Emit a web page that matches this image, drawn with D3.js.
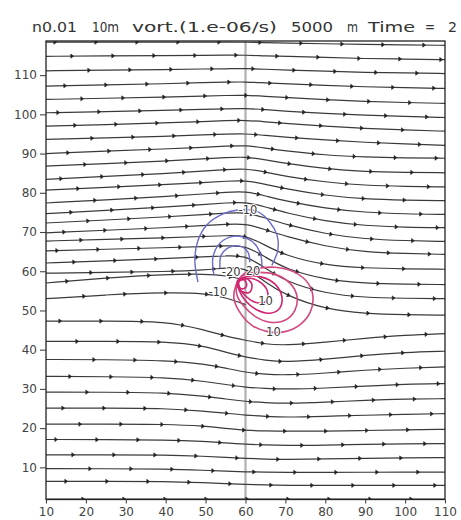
<!DOCTYPE html>
<html><head><meta charset="utf-8">
<script src="https://cdn.jsdelivr.net/npm/d3@7"></script>
<style>body{margin:0;background:#fff}svg{display:block}</style>
</head><body>
<svg id="c" width="461" height="520"></svg>
<script>
// ---------- data ----------
const titleWords = ["n0.01","10m","vort.(1.e-06/s)","5000","m","Time","=","2"];
const xTicks = [10,20,30,40,50,60,70,80,90,100,110];
const yTicks = [10,20,30,40,50,60,70,80,90,100,110];
const xDomain = [10,110];
const yDomain = [1.8,118.7];
const refLineX = 60;
// streamline y-values sampled at these x
const sampleX = [10,25,40,50,55,60,65,70,80,90,100,110];
const streamlines = [
 [118.4,118.4,118.4,118.4,118.4,118.4,118.3,118.2,118.0,117.8,117.7,117.6],
 [114.8,114.9,115.0,115.0,115.1,115.1,114.9,114.8,114.5,114.2,114.1,113.95],
 [111.1,111.3,111.4,111.6,111.6,111.7,111.5,111.3,111.0,110.7,110.55,110.4],
 [107.2,107.5,107.8,108.1,108.2,108.3,108.0,107.8,107.4,107.0,106.8,106.6],
 [103.8,104.1,104.4,104.7,104.8,104.9,104.6,104.3,103.7,103.3,103.0,102.8],
 [100.4,100.7,101.0,101.3,101.4,101.5,101.2,100.8,100.2,99.8,99.5,99.2],
 [97.0,97.4,97.8,98.2,98.4,98.5,98.1,97.7,97.0,96.4,96.0,95.7],
 [93.6,94.0,94.4,94.8,94.95,95.1,94.6,94.2,93.45,92.85,92.45,92.1],
 [90.0,90.6,91.2,91.6,91.9,92.1,91.4,90.7,89.6,89.1,88.9,88.8],
 [86.8,87.45,88.1,88.7,88.95,89.2,88.4,87.5,86.1,85.4,85.2,85.1],
 [83.4,84.2,84.9,85.6,85.9,86.2,85.3,84.2,82.7,81.9,81.6,81.5],
 [80.7,81.4,82.1,82.65,82.95,83.2,82.2,81.0,79.3,78.4,78.1,78.0],
 [77.4,78.2,79.05,79.75,80.1,80.4,79.2,77.9,76.0,75.0,74.6,74.5],
 [74.7,75.5,76.35,77.05,77.4,77.7,76.4,74.9,72.75,71.6,71.2,71.1],
 [72.3,73.05,73.85,74.5,74.8,75.1,73.6,71.95,69.5,68.2,67.8,67.6],
 [69.8,70.45,71.1,71.7,71.95,72.2,70.6,68.9,66.3,64.9,64.5,64.3],
 [67.7,68.1,68.5,68.9,69.05,69.2,66.6,64.0,61.5,60.8,60.6,60.5],
 [65.2,65.6,66.0,66.3,66.45,66.6,63.6,60.6,57.8,56.9,56.7,56.6],
 [62.1,62.65,63.2,63.7,63.9,64.1,60.8,57.4,54.3,53.3,53.1,53.0],
 [59.5,59.7,59.9,60.3,60.9,61.0,57.2,53.9,50.3,49.2,48.9,48.8],
 [57.0,58.3,59.2,59.3,58.9,57.8,null,null,null,null,null,null],
 [53.0,54.0,54.6,54.4,53.3,51.5,null,null,null,null,null,null],
 [47.3,47.3,47.3,45.0,43.4,42.4,41.4,41.1,41.9,42.9,43.7,44.1],
 [42.1,42.1,42.1,40.9,39.3,38.1,37.3,36.8,37.5,38.6,39.3,39.6],
 [37.5,37.45,37.3,36.3,35.3,34.2,33.7,33.5,34.0,34.8,35.3,35.6],
 [33.2,33.1,32.96,31.9,31.1,30.4,30.1,29.9,30.2,30.7,31.2,31.35],
 [29.2,29.15,29.1,28.1,27.4,26.8,26.5,26.3,26.6,27.1,27.4,27.5],
 [25.1,25.1,25.05,24.3,23.8,23.3,23.0,22.75,23.0,23.3,23.5,23.7],
 [21.0,21.0,21.0,20.5,19.9,19.4,19.3,19.2,19.2,19.4,19.57,19.7],
 [17.1,17.05,17.0,16.6,16.2,15.9,15.7,15.6,15.6,15.9,16.0,16.05],
 [13.2,13.2,13.19,12.8,12.55,12.3,12.1,12.0,12.16,12.3,12.4,12.47],
 [9.66,9.64,9.61,9.23,9.0,8.85,8.78,8.72,8.72,8.75,8.78,8.8],
 [6.43,6.43,6.43,6.05,5.85,5.66,5.5,5.4,5.4,5.4,5.4,5.4],
 [1.9,1.9,1.9,1.9,1.9,1.9,1.9,1.9,1.9,1.9,1.9,1.9]
];
// negative vorticity contours (open arcs), [x,y]
const negContours = [
 [[48.1,57.2],[47.3,62.8],[48.1,67.9],[50.3,71.8],[54.1,74.5],[58.1,75.6],[62.8,75.3],[66.1,72.5],[67.9,69.2],[68.1,65.4],[66.6,61.5]],
 [[52.1,59.0],[51.8,63.3],[53.1,66.6],[56.1,68.7],[59.4,68.7],[62.4,66.9],[63.9,63.8],[64.1,60.8]],
 [[53.6,60.8],[53.9,64.1],[55.9,66.1],[58.6,66.4],[60.6,64.9],[61.1,62.3]]
];
// positive vorticity contours (closed), [x,y]
const posContours = [
 [[57.6,56.4],[59.1,58.9],[62.4,60.5],[67.4,61.0],[72.4,59.7],[75.7,56.9],[76.9,53.6],[76.2,49.5],[73.7,46.4],[69.9,44.6],[65.6,44.6],[61.6,46.2],[58.6,49.5],[57.1,53.1]],
 [[57.9,56.9],[59.9,59.2],[63.1,59.7],[67.4,59.2],[71.2,56.9],[72.9,53.6],[72.4,50.1],[69.9,47.5],[66.1,47.0],[62.4,48.5],[59.4,51.3],[57.9,53.8]],
 [[58.1,57.2],[60.6,58.7],[64.1,58.5],[67.4,56.7],[69.1,53.6],[68.6,50.6],[66.1,49.3],[62.9,50.1],[59.9,52.6],[58.4,55.2]],
 [[58.4,57.4],[61.1,58.2],[64.1,56.9],[65.6,54.4],[64.9,52.1],[62.4,52.1],[59.9,53.8],[58.4,55.9]],
 [[58.1,57.7],[60.1,58.2],[61.6,56.7],[61.1,54.7],[59.4,54.7],[58.1,55.9]],
 [[58.3,57.5],[59.6,57.8],[60.3,56.6],[59.7,55.6],[58.6,55.8]]
];
const contourLabels = [
 {text:"-10", x:60.6, y:75.6},
 {text:"-20", x:56.4, y:59.8},
 {text:"20",  x:61.9, y:60.0},
 {text:"-10", x:53.1, y:54.7},
 {text:"10",  x:65.0, y:52.5},
 {text:"10",  x:67.0, y:44.6}
];

// ---------- drawing ----------
const svg = d3.select("#c");
const W = 461, H = 520;
const L = 46, R = 445, T = 41, B = 499.5;
const x = d3.scaleLinear().domain(xDomain).range([L, R]);
const y = d3.scaleLinear().domain(yDomain).range([B, T]);
const font = "'DejaVu Sans', sans-serif";

svg.append("rect").attr("width", W).attr("height", H).attr("fill", "#fff");

svg.append("clipPath").attr("id", "plotclip").append("rect")
  .attr("x", L).attr("y", T).attr("width", R - L).attr("height", B - T);
const g = svg.append("g").attr("clip-path", "url(#plotclip)");

// reference vertical line
g.append("line")
  .attr("x1", x(refLineX)).attr("x2", x(refLineX))
  .attr("y1", T).attr("y2", B)
  .attr("stroke", "#b0b0b0").attr("stroke-width", 2.2);

// streamlines
const sl = d3.line()
  .x(d => x(d[0])).y(d => y(d[1]))
  .curve(d3.curveBasis);
const arrowGap = 41;
streamlines.forEach((vals, i) => {
  const pts = sampleX.map((sx, k) => [sx, vals[k]]).filter(p => p[1] !== null);
  const path = g.append("path").attr("d", sl(pts))
    .attr("fill", "none").attr("stroke", "#3a3a3a").attr("stroke-width", 1.2);
  const node = path.node();
  const len = node.getTotalLength();
  const start = 10 + ((i * 17) % arrowGap);
  for (let l = start; l < len - 3; l += arrowGap) {
    const p = node.getPointAtLength(l);
    const q = node.getPointAtLength(Math.min(len, l + 1));
    const ang = Math.atan2(q.y - p.y, q.x - p.x) * 180 / Math.PI;
    g.append("path")
      .attr("d", "M-2.2,-2.1L0.6,0L-2.2,2.1Z")
      .attr("transform", `translate(${p.x},${p.y}) rotate(${ang})`)
      .attr("fill", "#222").attr("stroke", "#222").attr("stroke-width", 0.6);
  }
});

// negative contours
const openLine = d3.line().x(d => x(d[0])).y(d => y(d[1])).curve(d3.curveCatmullRom);
negContours.forEach(c => {
  g.append("path").attr("d", openLine(c))
    .attr("fill", "none").attr("stroke", "#6a6acb").attr("stroke-width", 1.4);
});
// positive contours
const closedLine = d3.line().x(d => x(d[0])).y(d => y(d[1])).curve(d3.curveCatmullRomClosed);
posContours.forEach((c, i) => {
  g.append("path").attr("d", closedLine(c))
    .attr("fill", "none").attr("stroke", i < 2 ? "#d2477f" : "#cf2470")
    .attr("stroke-width", 1.6);
});

// contour labels
g.selectAll("text.cl").data(contourLabels).join("text")
  .attr("class", "cl")
  .attr("x", d => x(d.x)).attr("y", d => y(d.y))
  .attr("dy", "0.35em").attr("text-anchor", "middle")
  .attr("font-family", font).attr("font-size", 11.5)
  .attr("fill", "#3a3a3a")
  .attr("stroke", "#fff").attr("stroke-width", 2).attr("paint-order", "stroke")
  .text(d => d.text);

// frame
svg.append("rect").attr("x", L).attr("y", T).attr("width", R - L).attr("height", B - T)
  .attr("fill", "none").attr("stroke", "#222").attr("stroke-width", 1.3);

// axes
const xAxis = d3.axisBottom(x).tickValues(xTicks).tickSize(4).tickPadding(3.5);
const yAxis = d3.axisLeft(y).tickValues(yTicks).tickSize(6).tickPadding(3);
const gx = svg.append("g").attr("transform", `translate(0,${B})`).call(xAxis);
const gy = svg.append("g").attr("transform", `translate(${L},0)`).call(yAxis);
[gx, gy].forEach(a => {
  a.select(".domain").remove();
  a.selectAll(".tick line").attr("stroke", "#444").attr("stroke-width", 1.1);
  a.selectAll(".tick text").attr("font-family", font).attr("font-size", 12).attr("fill", "#444");
});

// title
const titleLayout = [[32,45],[92,27],[132,145],[291,42],[347,11],[368,47],[425,10],[448,9]];
const title = svg.append("text").attr("y", 32)
  .attr("font-family", font).attr("font-size", 13.5).attr("fill", "#333");
titleWords.forEach((w, i) => {
  title.append("tspan").attr("x", titleLayout[i][0])
    .attr("textLength", titleLayout[i][1]).attr("lengthAdjust", "spacingAndGlyphs")
    .text(w);
});
</script>
</body></html>
